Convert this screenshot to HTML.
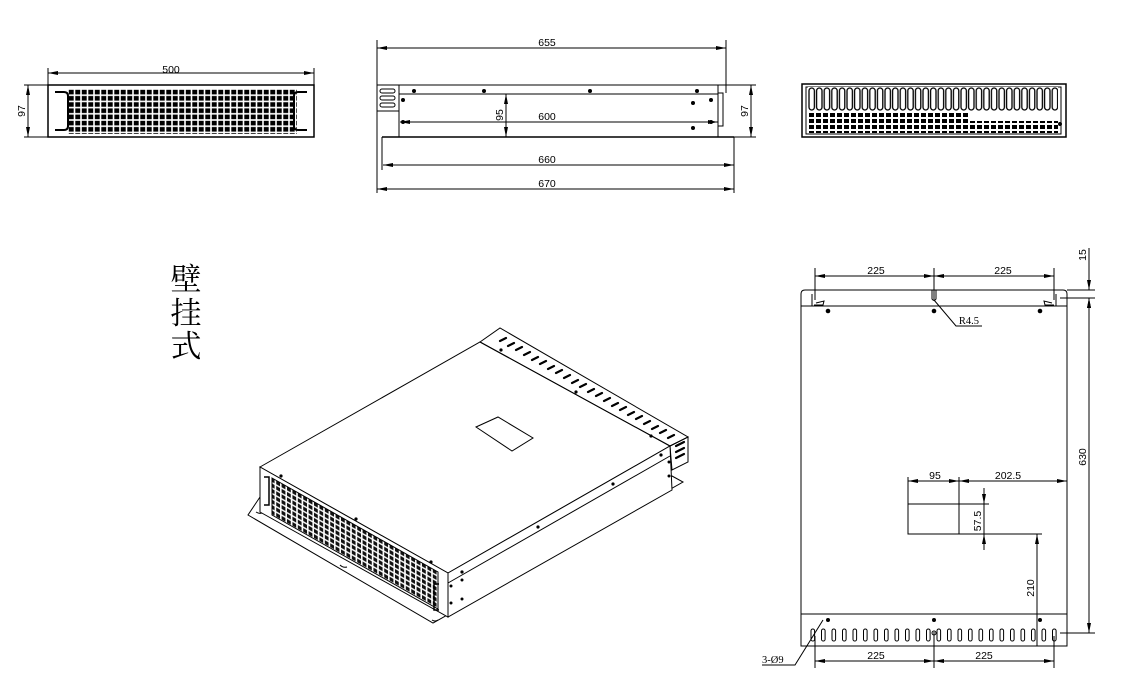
<!DOCTYPE html>
<html><head><meta charset="utf-8"><style>
html,body{margin:0;padding:0;background:#fff;}
svg{display:block;}
text{font-family:"Liberation Sans",sans-serif;font-size:10.5px;fill:#000;}
.s{font-family:"Liberation Serif","Noto Serif CJK SC",serif;}
</style></head><body>
<svg width="1125" height="699" viewBox="0 0 1125 699" xmlns="http://www.w3.org/2000/svg">
<defs>
<marker id="a" viewBox="0 0 10 4" refX="10" refY="2" markerWidth="10" markerHeight="4" orient="auto-start-reverse" markerUnits="userSpaceOnUse"><path d="M0,0 L10,2 L0,4z" fill="#000"/></marker>
<pattern id="mesh" width="6.5" height="6.2" patternUnits="userSpaceOnUse" x="68" y="89"><rect width="6.5" height="6.2" fill="#fff"/><rect x="0.8" y="0.8" width="4.9" height="4.6" fill="#000"/></pattern>
<pattern id="mesh2" width="5.4" height="5.4" patternUnits="userSpaceOnUse" patternTransform="skewY(29.4)"><rect width="5.4" height="5.4" fill="#fff"/><rect x="0.8" y="0.8" width="3.8" height="3.8" fill="#111"/></pattern>
<pattern id="fins" width="7.6" height="26" patternUnits="userSpaceOnUse" x="808" y="87"><rect width="7.6" height="26" fill="#fff"/><rect x="1" y="1" width="5.4" height="22" rx="2.7" fill="none" stroke="#000" stroke-width="1.3"/></pattern>
<pattern id="grid3" width="7" height="6" patternUnits="userSpaceOnUse" x="808" y="112"><rect width="7" height="6" fill="#fff"/><rect x="1" y="1" width="5" height="4" fill="#000"/></pattern>
</defs>
<g stroke="#000" fill="none" stroke-width="1">

<!-- FRONT VIEW -->
<rect x="48" y="85" width="266" height="52" stroke-width="1.5"/>
<rect x="68" y="89" width="229" height="45" fill="url(#mesh)" stroke="none"/>
<path d="M55,92 H64 Q68,92 68,96 V126 Q68,130 64,130 H55" stroke-width="2"/>
<path d="M307,92 H298 Q294,92 294,96 V126 Q294,130 298,130 H307" stroke-width="2"/>
<line x1="48" y1="73" x2="314" y2="73" marker-start="url(#a)" marker-end="url(#a)"/>
<line x1="48" y1="68" x2="48" y2="85"/><line x1="314" y1="68" x2="314" y2="85"/>
<line x1="28" y1="85" x2="28" y2="137" marker-start="url(#a)" marker-end="url(#a)"/>
<line x1="24" y1="85" x2="48" y2="85"/><line x1="24" y1="137" x2="48" y2="137"/>

<!-- SIDE VIEW -->
<rect x="377" y="85" width="22" height="26"/>
<rect x="380" y="89" width="15" height="4" rx="2"/><rect x="380" y="96" width="15" height="4" rx="2"/><rect x="380" y="103" width="15" height="4" rx="2"/>
<line x1="399" y1="85" x2="725" y2="85"/>
<line x1="399" y1="94" x2="718" y2="94"/>
<line x1="399" y1="85" x2="399" y2="137"/>
<line x1="718" y1="85" x2="718" y2="137"/>
<rect x="718" y="93" width="5" height="33"/>
<line x1="382" y1="137" x2="734" y2="137" stroke-width="1.5"/>
<line x1="382" y1="137" x2="382" y2="170"/>
<line x1="734" y1="137" x2="734" y2="193"/>
<line x1="377" y1="40" x2="377" y2="193"/>
<line x1="726" y1="40" x2="726" y2="93"/>
<line x1="377" y1="48" x2="726" y2="48" marker-start="url(#a)" marker-end="url(#a)"/>
<line x1="400" y1="122" x2="718" y2="122" marker-start="url(#a)" marker-end="url(#a)"/>
<line x1="506" y1="94" x2="506" y2="137" marker-start="url(#a)" marker-end="url(#a)"/>
<line x1="383" y1="165" x2="734" y2="165" marker-start="url(#a)" marker-end="url(#a)"/>
<line x1="377" y1="189" x2="734" y2="189" marker-start="url(#a)" marker-end="url(#a)"/>
<line x1="751" y1="85" x2="751" y2="137" marker-start="url(#a)" marker-end="url(#a)"/>
<line x1="725" y1="85" x2="756" y2="85"/><line x1="734" y1="137" x2="756" y2="137"/>
<g fill="#000" stroke="none">
<circle cx="414" cy="91" r="2"/><circle cx="484" cy="91" r="2"/><circle cx="590" cy="91" r="2"/><circle cx="697" cy="91" r="2"/>
<circle cx="403" cy="100" r="2"/><circle cx="711" cy="100" r="2"/><circle cx="693" cy="103" r="2"/><circle cx="693" cy="128" r="2"/>
<circle cx="403" cy="122" r="2"/><circle cx="711" cy="122" r="2"/>
</g>

<!-- REAR VIEW -->
<rect x="802" y="84" width="264" height="53" stroke-width="1.5"/>
<rect x="806" y="87" width="255" height="47"/>
<rect x="808" y="87" width="250" height="25" fill="url(#fins)" stroke="none"/>
<rect x="808" y="112" width="160" height="21" fill="url(#grid3)" stroke="none"/>
<rect x="968" y="121" width="90" height="12" fill="url(#grid3)" stroke="none"/>
<circle cx="1060" cy="124" r="1.5" fill="#000"/>

<!-- ISO VIEW -->
<polygon points="248,515 433,623 683,482 672,476 448,604 260,497"/>
<path d="M256,512 q3,2 6,1 M340,565 q3,3 7,2 M432,620 q3,2 6,0" />
<polygon points="260,467 480,342 670,446 448,573"/>
<polygon points="480,342 500,328 688,437 670,446"/>
<polygon points="670,446 688,437 688,462 672,470"/>
<polygon points="260,467 448,573 448,617 260,512" fill="#fff"/>
<polygon points="272,478 438,572 438,609 272,515" fill="url(#mesh2)"/>
<polygon points="448,573 670,446 672,490 448,617" fill="#fff"/>
<line x1="448" y1="583" x2="670" y2="456"/>
<polygon points="476,427 498,417 533,438 512,451"/>
<path d="M264,477 h5 v28 h-5 M439,584 h-5 v26 h5" stroke-width="1.5"/>
<g stroke-width="2.2" stroke-linecap="round">
<path d="M500,341 l6,-3 M508,346 l6,-3 M516,350 l6,-3 M524,355 l6,-3 M532,360 l6,-3 M540,364 l6,-3 M548,369 l6,-3 M556,373 l6,-3 M564,378 l6,-3 M572,383 l6,-3 M580,387 l6,-3 M588,392 l6,-3 M596,396 l6,-3 M604,401 l6,-3 M612,406 l6,-3 M620,410 l6,-3 M628,415 l6,-3 M636,419 l6,-3 M644,424 l6,-3 M652,429 l6,-3 M660,433 l6,-3 M668,438 l6,-3"/>
<path d="M676,446 l8,-4 M676,452 l8,-4 M676,458 l8,-4"/>
</g>
<g fill="#000" stroke="none">
<circle cx="281" cy="476" r="1.6"/><circle cx="356" cy="519" r="1.6"/><circle cx="431" cy="562" r="1.6"/>
<circle cx="501" cy="350" r="1.6"/><circle cx="576" cy="392" r="1.6"/><circle cx="651" cy="436" r="1.6"/>
<circle cx="462" cy="572" r="1.6"/><circle cx="538" cy="527" r="1.6"/><circle cx="613" cy="484" r="1.6"/><circle cx="661" cy="455" r="1.6"/>
<circle cx="451" cy="586" r="1.5"/><circle cx="462" cy="580" r="1.5"/><circle cx="451" cy="603" r="1.5"/><circle cx="462" cy="599" r="1.5"/>
<circle cx="669" cy="462" r="1.5"/><circle cx="669" cy="476" r="1.5"/>
</g>

<!-- PLAN VIEW -->
<path d="M801,294 q0,-4 4,-4 H1063 q4,0 4,4 V646 H801 Z"/>
<line x1="801" y1="306" x2="1067" y2="306"/>
<line x1="801" y1="614" x2="1067" y2="614"/>
<path d="M812,306 v-12 M816,303 l8,-2 l-1,4 h-9" />
<path d="M1056,306 v-12 M1052,303 l-8,-2 l1,4 h9" />
<path d="M932,290 v9 q2,3 4,0 v-9"/>
<g fill="#000" stroke="none">
<circle cx="828" cy="311" r="2.3"/><circle cx="934" cy="311" r="2.3"/><circle cx="1040" cy="311" r="2.3"/>
<circle cx="828" cy="620" r="2"/><circle cx="934" cy="620" r="2"/><circle cx="1040" cy="620" r="2"/>
</g>
<g>
<rect x="811" y="629" width="3.6" height="12" rx="1.8"/><rect x="821.5" y="629" width="3.6" height="12" rx="1.8"/><rect x="832" y="629" width="3.6" height="12" rx="1.8"/><rect x="842.5" y="629" width="3.6" height="12" rx="1.8"/><rect x="853" y="629" width="3.6" height="12" rx="1.8"/><rect x="863.5" y="629" width="3.6" height="12" rx="1.8"/><rect x="874" y="629" width="3.6" height="12" rx="1.8"/><rect x="884.5" y="629" width="3.6" height="12" rx="1.8"/><rect x="895" y="629" width="3.6" height="12" rx="1.8"/><rect x="905.5" y="629" width="3.6" height="12" rx="1.8"/><rect x="916" y="629" width="3.6" height="12" rx="1.8"/><rect x="926.5" y="629" width="3.6" height="12" rx="1.8"/><rect x="937" y="629" width="3.6" height="12" rx="1.8"/><rect x="947.5" y="629" width="3.6" height="12" rx="1.8"/><rect x="958" y="629" width="3.6" height="12" rx="1.8"/><rect x="968.5" y="629" width="3.6" height="12" rx="1.8"/><rect x="979" y="629" width="3.6" height="12" rx="1.8"/><rect x="989.5" y="629" width="3.6" height="12" rx="1.8"/><rect x="1000" y="629" width="3.6" height="12" rx="1.8"/><rect x="1010.5" y="629" width="3.6" height="12" rx="1.8"/><rect x="1021" y="629" width="3.6" height="12" rx="1.8"/><rect x="1031.5" y="629" width="3.6" height="12" rx="1.8"/><rect x="1042" y="629" width="3.6" height="12" rx="1.8"/><rect x="1052.5" y="629" width="3.6" height="12" rx="1.8"/>
</g>
<circle cx="934" cy="633" r="2"/>
<line x1="815" y1="268" x2="815" y2="300"/><line x1="934" y1="268" x2="934" y2="300"/><line x1="1054" y1="268" x2="1054" y2="300"/>
<line x1="815" y1="276" x2="934" y2="276" marker-start="url(#a)" marker-end="url(#a)"/>
<line x1="934" y1="276" x2="1054" y2="276" marker-start="url(#a)" marker-end="url(#a)"/>
<line x1="815" y1="636" x2="815" y2="668"/><line x1="934" y1="632" x2="934" y2="668"/><line x1="1054" y1="636" x2="1054" y2="668"/>
<line x1="815" y1="661" x2="934" y2="661" marker-start="url(#a)" marker-end="url(#a)"/>
<line x1="934" y1="661" x2="1054" y2="661" marker-start="url(#a)" marker-end="url(#a)"/>
<line x1="1067" y1="290" x2="1095" y2="290"/><line x1="1060" y1="298" x2="1095" y2="298"/><line x1="1060" y1="633" x2="1095" y2="633"/>
<line x1="1089" y1="248" x2="1089" y2="290" marker-end="url(#a)"/>
<line x1="1089" y1="312" x2="1089" y2="298" marker-end="url(#a)"/>
<line x1="1089" y1="298" x2="1089" y2="633" marker-start="url(#a)" marker-end="url(#a)"/>
<path d="M934,300 L956,326 H982"/>
<line x1="908" y1="477" x2="908" y2="534"/><line x1="959" y1="477" x2="959" y2="534"/>
<rect x="908" y="504" width="51" height="30"/>
<line x1="908" y1="481" x2="959" y2="481" marker-start="url(#a)" marker-end="url(#a)"/>
<line x1="959" y1="481" x2="1067" y2="481" marker-start="url(#a)" marker-end="url(#a)"/>
<line x1="959" y1="504" x2="989" y2="504"/><line x1="959" y1="534" x2="1042" y2="534"/>
<line x1="984" y1="488" x2="984" y2="504" marker-end="url(#a)"/>
<line x1="984" y1="550" x2="984" y2="534" marker-end="url(#a)"/>
<line x1="984" y1="504" x2="984" y2="534"/>
<line x1="1037" y1="646" x2="1037" y2="534" marker-end="url(#a)"/>
<path d="M762,665 H795 L823,620"/>
</g>
<text x="171" y="73" text-anchor="middle">500</text>
<text transform="translate(25,111) rotate(-90)" text-anchor="middle">97</text>
<text x="547" y="46" text-anchor="middle">655</text>
<text x="547" y="120" text-anchor="middle">600</text>
<text transform="translate(503,115) rotate(-90)" text-anchor="middle">95</text>
<text x="547" y="163" text-anchor="middle">660</text>
<text x="547" y="187" text-anchor="middle">670</text>
<text transform="translate(748,111) rotate(-90)" text-anchor="middle">97</text>
<text x="876" y="274" text-anchor="middle">225</text>
<text x="1003" y="274" text-anchor="middle">225</text>
<text x="876" y="659" text-anchor="middle">225</text>
<text x="984" y="659" text-anchor="middle">225</text>
<text transform="translate(1086,255) rotate(-90)" text-anchor="middle">15</text>
<text transform="translate(1086,457) rotate(-90)" text-anchor="middle">630</text>
<text x="969" y="324" text-anchor="middle" class="s">R4.5</text>
<text x="935" y="479" text-anchor="middle">95</text>
<text x="1008" y="479" text-anchor="middle">202.5</text>
<text transform="translate(981,521) rotate(-90)" text-anchor="middle">57.5</text>
<text transform="translate(1034,588) rotate(-90)" text-anchor="middle">210</text>
<text x="762" y="663" class="s">3-Ø9</text>
<text x="186" y="290" text-anchor="middle" class="s" style="font-size:31px">壁</text>
<text x="186" y="324" text-anchor="middle" class="s" style="font-size:31px">挂</text>
<text x="186" y="357" text-anchor="middle" class="s" style="font-size:31px">式</text>
</svg>
</body></html>
